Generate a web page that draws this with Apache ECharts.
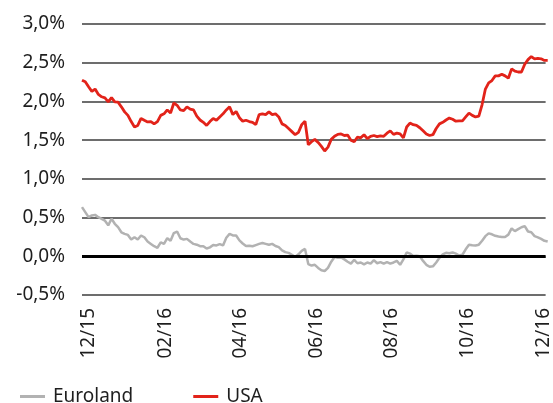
<!DOCTYPE html>
<html>
<head>
<meta charset="utf-8">
<script src="https://cdn.jsdelivr.net/npm/echarts@6/dist/echarts.min.js"></script>
<style>
  html, body { margin: 0; padding: 0; background: #ffffff; }
  #chart { width: 553px; height: 403px; }
</style>
</head>
<body>
<div id="chart"></div>
<script>
// Bond yields, Dec 2015 – Dec 2016, in percent.
const seriesNames = ['Euroland', 'USA'];

// Axis ticks: day offsets from 1 Dec 2015 and their labels.
const tickDays = [0, 62, 122, 183, 244, 305, 366];
const tickLabels = ['12/15', '02/16', '04/16', '06/16', '08/16', '10/16', '12/16'];

// Samples are taken every ~2.6 days, starting a few days before December 2015.
const firstDay = -5.5;
const dayStep = 2.64;

const euroland = [
  0.635, 0.57, 0.505, 0.527, 0.535, 0.505, 0.484, 0.46, 0.40, 0.484,
  0.42, 0.376, 0.31, 0.29, 0.276, 0.216, 0.246, 0.216, 0.268, 0.246,
  0.19, 0.16, 0.13, 0.11, 0.18, 0.16, 0.233, 0.20, 0.30, 0.32,
  0.233, 0.216, 0.225, 0.19, 0.16, 0.15,
  0.13, 0.13, 0.10, 0.115, 0.145, 0.14, 0.158, 0.14, 0.24, 0.29,
  0.27, 0.268, 0.205, 0.165, 0.133, 0.137, 0.13, 0.145, 0.16, 0.172,
  0.16, 0.148, 0.16, 0.133, 0.118, 0.077, 0.054, 0.044, 0.02, -0.01,
  0.026, 0.07, 0.095, -0.10, -0.12,
  -0.11, -0.15, -0.18, -0.19, -0.15, -0.07, -0.01, -0.02, -0.015, -0.04,
  -0.07, -0.095, -0.045, -0.09, -0.08, -0.105, -0.08, -0.095, -0.05, -0.09,
  -0.075, -0.095, -0.075, -0.095, -0.08, -0.06, -0.11, -0.04, 0.05, 0.035,
  0.005, 0.007, 0.0, -0.06, -0.11,
  -0.135, -0.13, -0.08, -0.02, 0.025, 0.045, 0.04, 0.05, 0.035, 0.01,
  0.02, 0.09, 0.15, 0.142, 0.14, 0.15, 0.20, 0.26, 0.296, 0.284,
  0.265, 0.256, 0.25, 0.25, 0.28, 0.36, 0.325, 0.35, 0.375, 0.39,
  0.32, 0.31, 0.26, 0.245, 0.225, 0.20, 0.19
];

const usa = [
  2.275, 2.254, 2.19, 2.13, 2.16, 2.09, 2.06, 2.045, 1.995, 2.05,
  1.995, 1.99, 1.93, 1.865, 1.82, 1.74, 1.67, 1.69, 1.78, 1.757,
  1.735, 1.74, 1.71, 1.74, 1.82, 1.84, 1.89, 1.85, 1.98, 1.95,
  1.89, 1.88, 1.93, 1.90, 1.89, 1.81,
  1.76, 1.73, 1.69, 1.74, 1.78, 1.757, 1.80, 1.84, 1.89, 1.93,
  1.83, 1.87, 1.79, 1.745, 1.757, 1.74, 1.73, 1.70, 1.83, 1.84,
  1.83, 1.865, 1.83, 1.84, 1.80, 1.71, 1.69, 1.65, 1.61, 1.57,
  1.60, 1.70, 1.745, 1.44, 1.48,
  1.51, 1.47, 1.42, 1.36, 1.41, 1.51, 1.55, 1.575, 1.58, 1.56,
  1.565, 1.50, 1.48, 1.54, 1.53, 1.57, 1.52, 1.55, 1.56, 1.545,
  1.555, 1.55, 1.59, 1.62, 1.575, 1.59, 1.58, 1.53, 1.67, 1.72,
  1.70, 1.69, 1.66, 1.62, 1.58,
  1.56, 1.57, 1.65, 1.71, 1.73, 1.76, 1.785, 1.77, 1.745, 1.75,
  1.75, 1.80, 1.85, 1.82, 1.80, 1.81, 1.96, 2.16, 2.24, 2.27,
  2.33, 2.33, 2.35, 2.33, 2.30, 2.42, 2.39, 2.38, 2.38, 2.48,
  2.54, 2.58, 2.55, 2.555, 2.55, 2.53, 2.53
];

// Y-axis range (percent)
const yMin = -0.5, yMax = 3.0, yStep = 0.5;

const toPoints = vals => vals.map((v, i) => [firstDay + i * dayStep, v]);
const fmtPct = v => v.toFixed(1).replace('.', ',') + '%';

const textColor = '#1e1e1e';
const fontFamily = '"Noto Sans", "Open Sans", sans-serif';

const chart = echarts.init(document.getElementById('chart'), null, { renderer: 'canvas' });

chart.setOption({
  animation: false,
  backgroundColor: '#ffffff',
  textStyle: { fontFamily: fontFamily },
  grid: { left: 82, right: 0, top: 24, bottom: 108, containLabel: false },
  xAxis: {
    type: 'value',
    min: -5.5,
    max: 367.7,
    splitLine: { show: false },
    axisLine: { show: false },
    axisTick: { show: false },
    axisLabel: {
      customValues: tickDays,
      formatter: v => tickLabels[tickDays.indexOf(v)] || '',
      rotate: 90,
      margin: 13,
      fontSize: 19,
      color: textColor,
      fontFamily: fontFamily
    }
  },
  yAxis: {
    type: 'value',
    min: yMin,
    max: yMax,
    interval: yStep,
    axisLine: { show: false },
    axisTick: { show: false },
    axisLabel: {
      formatter: fmtPct,
      margin: 17,
      fontSize: 19,
      color: textColor,
      fontFamily: fontFamily
    },
    splitLine: { lineStyle: { color: '#3c3c3c', width: 1.5 } }
  },
  legend: {
    data: seriesNames,
    left: 15,
    top: 382,
    icon: 'rect',
    itemWidth: 25,
    itemHeight: 3,
    itemGap: 60,
    textStyle: {
      fontSize: 19,
      color: textColor,
      fontFamily: fontFamily,
      padding: [0, 0, 0, 3]
    }
  },
  series: [
    {
      name: seriesNames[0],
      type: 'line',
      data: toPoints(euroland),
      showSymbol: false,
      symbol: 'none',
      color: '#b2b2b2',
      lineStyle: { color: '#b2b2b2', width: 2.5 },
      markLine: {
        silent: true,
        symbol: 'none',
        label: { show: false },
        lineStyle: { color: '#000000', width: 3, type: 'solid' },
        data: [{ yAxis: 0 }]
      },
      z: 3
    },
    {
      name: seriesNames[1],
      type: 'line',
      data: toPoints(usa),
      showSymbol: false,
      symbol: 'none',
      color: '#e2231a',
      lineStyle: { color: '#e2231a', width: 2.8 },
      z: 4
    }
  ]
});
</script>
</body>
</html>
